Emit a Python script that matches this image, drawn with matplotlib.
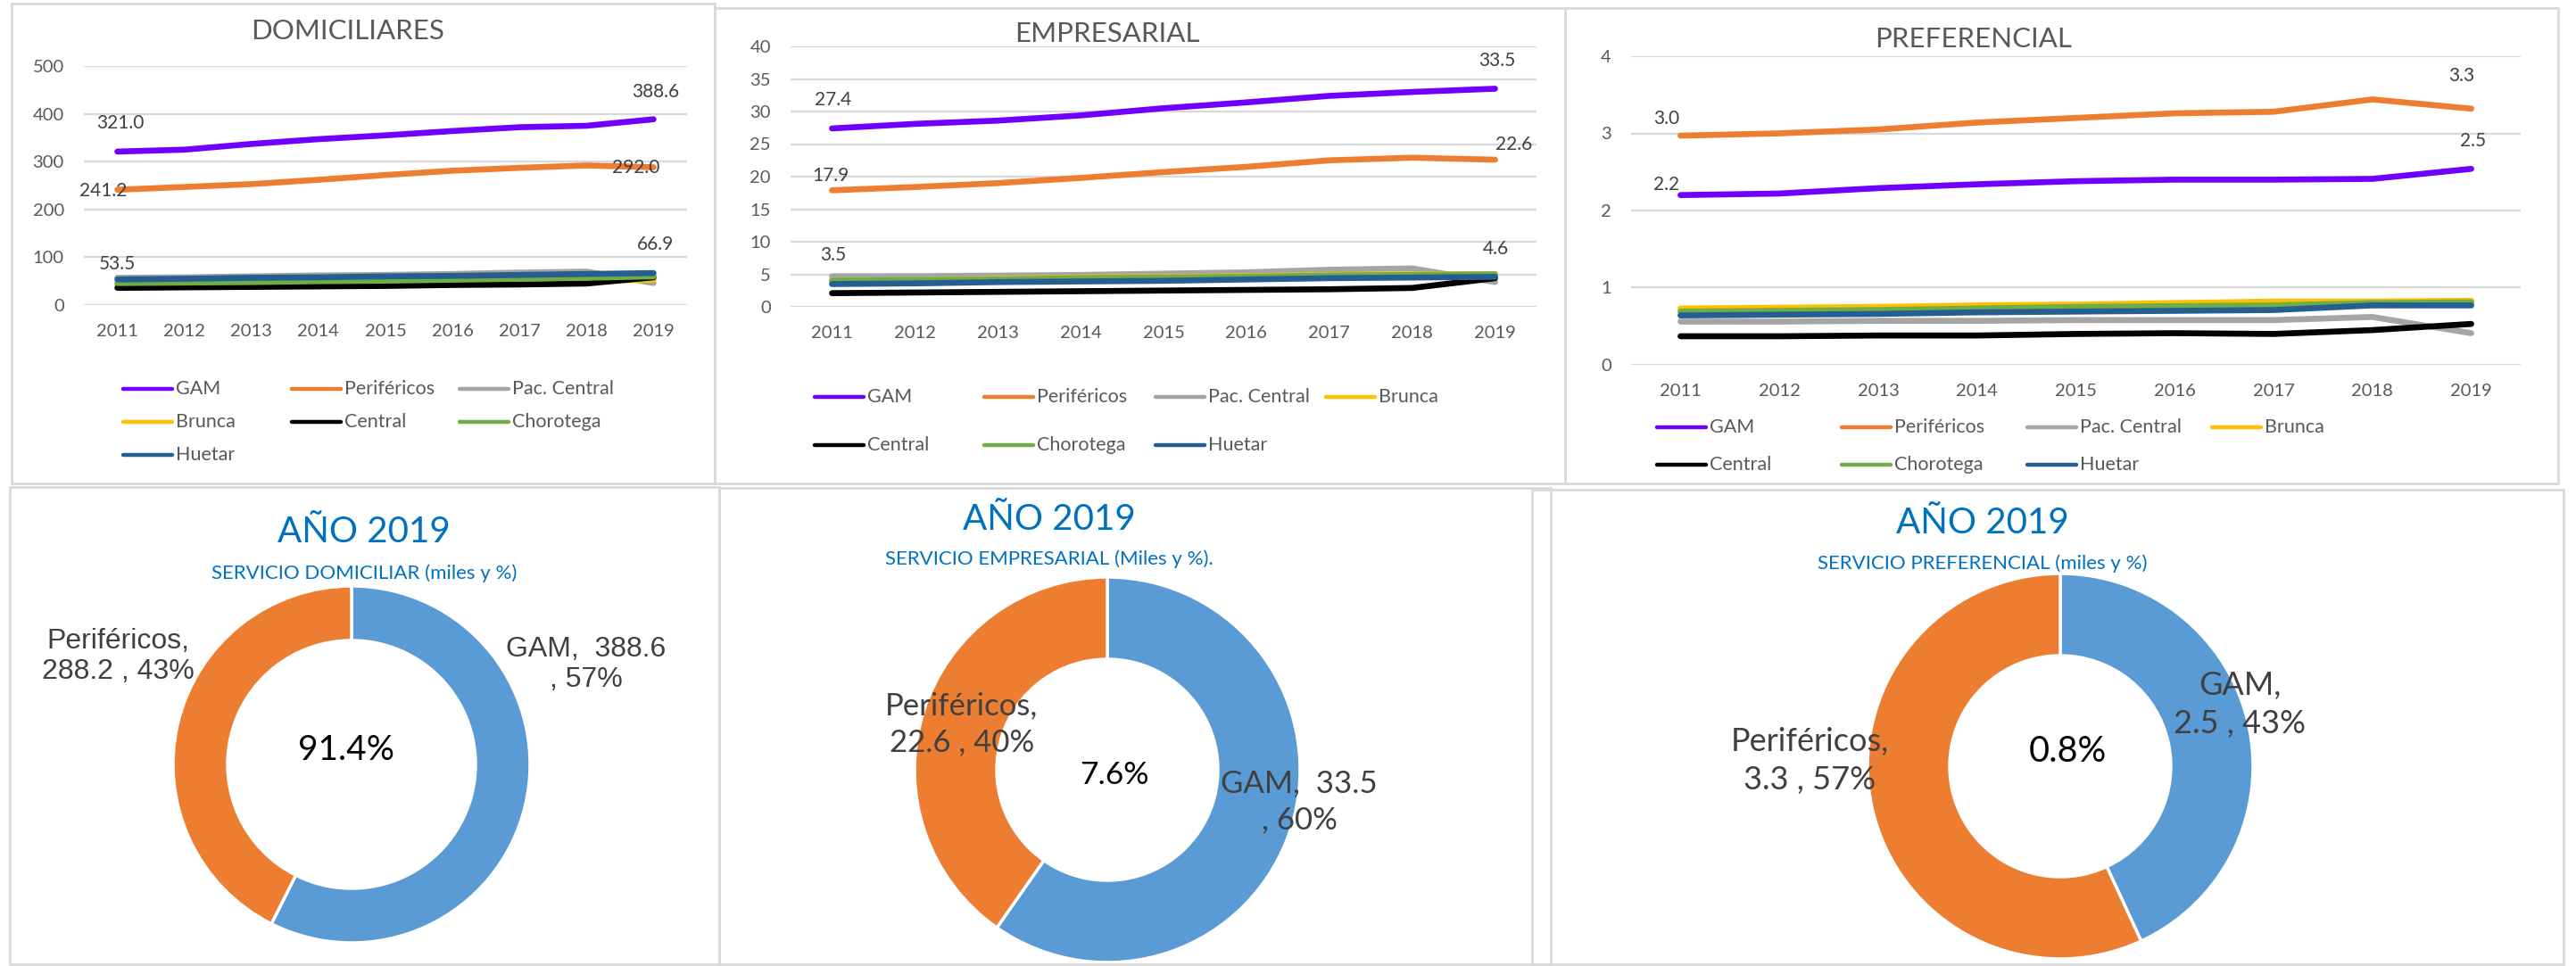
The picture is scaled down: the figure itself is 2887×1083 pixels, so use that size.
import matplotlib
matplotlib.use("Agg")
import matplotlib.pyplot as plt
from matplotlib.lines import Line2D
from matplotlib.patches import Rectangle

# ---------------- data ----------------
years = ["2011", "2012", "2013", "2014", "2015", "2016", "2017", "2018", "2019"]
series_names = ["GAM", "Periféricos", "Pac. Central", "Brunca", "Central", "Chorotega", "Huetar"]

dom_gam = [321.0, 325.0, 337.0, 347.0, 355.0, 364.0, 372.0, 375.0, 388.6]
dom_per = [241.2, 247.0, 253.0, 262.0, 272.0, 281.0, 287.0, 292.0, 288.2]
dom_pac = [57.0, 58.0, 60.0, 62.0, 63.0, 65.0, 68.0, 70.0, 46.0]
dom_bru = [44.0, 45.0, 46.0, 47.0, 48.0, 49.0, 50.0, 51.0, 53.0]
dom_cen = [36.0, 37.0, 38.0, 39.0, 40.0, 42.0, 43.0, 45.0, 58.0]
dom_cho = [46.0, 47.0, 48.0, 50.0, 51.0, 53.0, 55.0, 57.0, 60.0]
dom_hue = [53.5, 55.0, 57.0, 58.0, 60.0, 61.0, 63.0, 65.0, 66.9]

emp_gam = [27.4, 28.1, 28.6, 29.4, 30.5, 31.4, 32.4, 33.0, 33.5]
emp_per = [17.9, 18.4, 19.0, 19.8, 20.7, 21.5, 22.5, 22.9, 22.6]
emp_pac = [4.7, 4.7, 4.8, 4.9, 5.1, 5.3, 5.7, 5.9, 3.8]
emp_bru = [4.0, 4.1, 4.3, 4.5, 4.6, 4.7, 4.9, 5.0, 5.0]
emp_cen = [2.1, 2.2, 2.3, 2.4, 2.5, 2.6, 2.7, 2.9, 4.4]
emp_cho = [4.0, 4.1, 4.2, 4.4, 4.5, 4.6, 4.8, 4.9, 5.0]
emp_hue = [3.5, 3.6, 3.8, 3.9, 4.0, 4.2, 4.4, 4.5, 4.6]

pre_gam = [2.20, 2.22, 2.29, 2.34, 2.38, 2.40, 2.40, 2.41, 2.54]
pre_per = [2.97, 3.00, 3.05, 3.14, 3.20, 3.26, 3.28, 3.44, 3.32]
pre_pac = [0.56, 0.56, 0.57, 0.57, 0.58, 0.58, 0.58, 0.62, 0.41]
pre_bru = [0.73, 0.74, 0.75, 0.77, 0.78, 0.80, 0.82, 0.82, 0.83]
pre_cen = [0.37, 0.37, 0.38, 0.38, 0.40, 0.41, 0.40, 0.45, 0.53]
pre_cho = [0.69, 0.70, 0.71, 0.73, 0.75, 0.76, 0.77, 0.80, 0.81]
pre_hue = [0.64, 0.65, 0.66, 0.68, 0.69, 0.70, 0.71, 0.77, 0.77]

chart_titles = ["DOMICILIARES", "EMPRESARIAL", "PREFERENCIAL"]

donut_names = ["GAM", "Periféricos"]
donut_dom = [388.6, 288.2]
donut_emp = [33.5, 22.6]
donut_pre = [2.5, 3.3]
donut_share = [91.4, 7.6, 0.8]
donut_title = "AÑO 2019"
donut_subtitles = ["SERVICIO DOMICILIAR (miles y %)",
                   "SERVICIO EMPRESARIAL (Miles y %).",
                   "SERVICIO PREFERENCIAL (miles y %)"]

# ---------------- style ----------------
W, H = 2887, 1083
colors = ["#6F00FF", "#ED7D31", "#A5A5A5", "#FFC000", "#000000", "#70AD47", "#255E91"]
FONT = ["Lato", "DejaVu Sans"]
plt.rcParams["font.family"] = FONT
TXT = "#595959"
LBL = "#404040"
BLUE_T = "#0070C0"

fig = plt.figure(figsize=(W / 100, H / 100), dpi=100)


def fx(x):
    return x / W


def fy(y):
    return 1 - y / H


def box(x0, y0, x1, y1):
    fig.add_artist(Rectangle((fx(x0), fy(y1)), fx(x1) - fx(x0), fy(y0) - fy(y1),
                             transform=fig.transFigure, fill=False,
                             edgecolor="#d9d9d9", lw=2.0))


# panel borders
box(13, 4, 801, 542)
box(801, 9, 1754, 542)
box(1754, 9, 2867, 542)
box(11, 546, 806, 1081)
box(806, 547, 1738, 1081)
box(1717, 549, 2873, 1081)


def line_panel(xl, xr, ytop, ybot, ymax, ystep, data, labels, title, title_xy,
               leg_x, leg_y, ncol, tick_fs=14.5):
    ax = fig.add_axes([fx(xl), fy(ybot), fx(xr) - fx(xl), fy(ytop) - fy(ybot)])
    x = list(range(len(years)))
    for vals, c in zip(data, colors):
        ax.plot(x, vals, color=c, lw=4.8, solid_capstyle="round",
                solid_joinstyle="round", zorder=3)
    ax.set_xlim(-0.5, len(years) - 0.5)
    ax.set_ylim(0, ymax)
    ticks = [round(i * ystep, 6) for i in range(int(round(ymax / ystep)) + 1)]
    ax.set_yticks(ticks)
    ax.set_yticklabels([f"{t:g}" for t in ticks])
    ax.set_xticks(x)
    ax.set_xticklabels(years)
    ax.tick_params(length=0, labelsize=tick_fs, labelcolor=TXT)
    ax.tick_params(axis="y", pad=16)
    ax.tick_params(axis="x", pad=15)
    ax.grid(axis="y", color="#d9d9d9", lw=1.6, zorder=0)
    for s in ax.spines.values():
        s.set_visible(False)
    for (si, idx, dx, dy) in labels:
        v = data[si][idx]
        ax.annotate(f"{v:.1f}", (idx, v), xytext=(dx, dy), textcoords="offset pixels",
                    ha="center", va="center", fontsize=15, color=LBL, zorder=5)
    fig.text(fx(title_xy[0]), fy(title_xy[1]), title, ha="center", va="center",
             fontsize=22.5, color=TXT)
    # legend
    for i, (name, c) in enumerate(zip(series_names, colors)):
        r, col = divmod(i, ncol)
        x0 = leg_x[col]
        y0 = leg_y[r]
        fig.add_artist(Line2D([fx(x0), fx(x0 + 55)], [fy(y0), fy(y0)],
                              transform=fig.transFigure, color=c, lw=3.2,
                              solid_capstyle="round"))
        fig.text(fx(x0 + 59), fy(y0), name, ha="left", va="center",
                 fontsize=15.5, color=TXT)
    return ax


line_panel(94, 770, 74, 342, 500, 100,
           [dom_gam, dom_per, dom_pac, dom_bru, dom_cen, dom_cho, dom_hue],
           [(0, 0, 3, 32), (0, 8, 2, 31), (1, 0, -16, -1), (1, 7, 55, -3),
            (6, 0, 0, 17), (6, 8, 2, 32)],
           chart_titles[0], (390, 35), [138, 327, 515], [436, 473, 510], 3)

line_panel(886, 1722, 52, 344, 40, 5,
           [emp_gam, emp_per, emp_pac, emp_bru, emp_cen, emp_cho, emp_hue],
           [(0, 0, 1, 32), (0, 8, 2, 31), (1, 0, -2, 16), (1, 8, 21, 17),
            (6, 0, 1, 32), (6, 8, 1, 31)],
           chart_titles[1], (1241, 38), [913, 1103, 1295, 1486], [445, 499], 4)

line_panel(1828, 2825, 63, 409, 4, 1,
           [pre_gam, pre_per, pre_pac, pre_bru, pre_cen, pre_cho, pre_hue],
           [(1, 0, -16, 19), (1, 8, -11, 37), (0, 0, -16, 12), (0, 8, 2, 31)],
           chart_titles[2], (2212, 44), [1857, 2064, 2272, 2479], [479, 521], 4)


# ---------------- donuts ----------------
def donut(cx, cy, R, inner, vals, share, title_xy, sub_xy, subtitle,
          lab_specs, lab_font, lab_fs, center_xy, center_fs):
    ax = fig.add_axes([fx(cx - R), fy(cy + R), fx(2 * R), (2 * R) / H])
    ax.pie(vals, colors=["#5B9BD5", "#ED7D31"], startangle=90, counterclock=False,
           radius=1, wedgeprops=dict(width=1 - inner, edgecolor="white", linewidth=2.5))
    ax.set_xlim(-1, 1)
    ax.set_ylim(-1, 1)
    ax.axis("off")
    total = sum(vals)
    for i, (tmpl, (lx, ly), ls) in enumerate(lab_specs):
        pct = round(vals[i] / total * 100)
        txt = tmpl.format(n=donut_names[i], v=vals[i], p=pct)
        fig.text(fx(lx), fy(ly), txt, ha="center", va="center", multialignment="center",
                 fontsize=lab_fs, color=LBL, family=lab_font, linespacing=ls)
    fig.text(fx(center_xy[0]), fy(center_xy[1]), f"{share:.1f}%", ha="center", va="center",
             fontsize=center_fs, color="black")
    fig.text(fx(title_xy[0]), fy(title_xy[1]), donut_title, ha="center", va="center",
             fontsize=29, color=BLUE_T)
    fig.text(fx(sub_xy[0]), fy(sub_xy[1]), subtitle, ha="center", va="center",
             fontsize=16, color=BLUE_T)


donut(394, 857, 200, 0.695, donut_dom, donut_share[0], (408, 597), (408, 643),
      donut_subtitles[0],
      [("{n},  {v:.1f}\n, {p}%", (657, 745), 1.15),
       ("{n},\n{v:.1f} , {p}%", (132, 736), 1.15)],
      ["Liberation Sans", "DejaVu Sans"], 23, (388, 841), 28)

donut(1241, 863, 216, 0.574, donut_emp, donut_share[1], (1176, 582), (1176, 627),
      donut_subtitles[1],
      [("{n},  {v:.1f}\n, {p}%", (1456, 899), 1.35),
       ("{n},\n{v:.1f} , {p}%", (1078, 812), 1.35)],
      FONT, 25, (1249, 869), 25.5)

donut(2309, 859, 216, 0.574, donut_pre, donut_share[2], (2222, 587), (2222, 632),
      donut_subtitles[2],
      [("{n},\n{v:.1f} , {p}%", (2510, 790), 1.35),
       ("{n},\n{v:.1f} , {p}%", (2028, 853), 1.35)],
      FONT, 26, (2317, 843), 28.5)

fig.savefig("out.png", dpi=100)
